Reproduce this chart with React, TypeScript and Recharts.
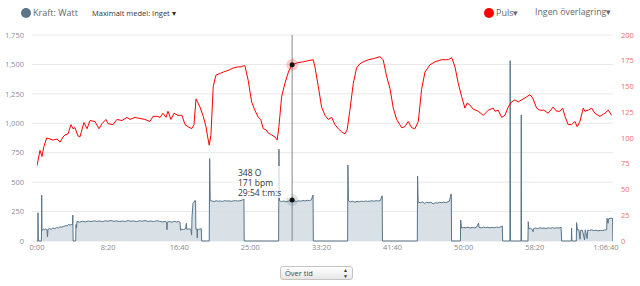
import {
  ComposedChart, Line, Area, XAxis, YAxis, CartesianGrid, ReferenceLine, ReferenceDot,
} from 'recharts'

type Pt = [number, number]

// power (watt) by elapsed seconds, one list per part of the session
const warmupWatt: Pt[] = [
  [0, 0], [6, 0], [7, 240], [9, 40], [11, 0], [31, 0], [33, 390], [35, 90], [45, 100], [55, 95],
  [62, 105], [70, 95], [74, 35], [77, 100], [88, 105], [100, 100], [112, 110], [125, 105], [138, 115],
  [150, 110], [162, 120], [175, 118], [188, 125], [200, 130], [212, 128], [222, 140], [232, 135],
  [242, 140], [250, 138], [252, 220], [254, 0], [272, 0], [274, 140], [278, 110], [281, 165],
  [300, 160], [320, 168], [340, 162], [360, 170], [380, 165], [400, 172], [420, 166], [440, 170],
  [460, 165], [480, 172], [500, 168], [520, 174], [540, 167], [560, 171], [580, 165], [600, 170],
  [620, 166], [640, 173], [660, 168], [680, 170], [700, 165], [720, 172], [740, 168], [760, 174],
  [780, 166], [800, 170], [820, 165], [840, 172], [860, 168], [880, 162], [900, 165], [912, 160],
  [914, 95], [916, 160], [930, 165], [950, 160], [965, 168], [980, 162], [995, 165], [1005, 160],
  [1010, 90], [1014, 100], [1030, 98], [1045, 104], [1050, 150], [1053, 100], [1070, 102],
  [1082, 100], [1087, 50], [1090, 205], [1097, 320], [1104, 330], [1111, 345], [1115, 340],
  [1117, 100], [1125, 100], [1127, 25], [1129, 100], [1145, 100], [1155, 105], [1158, 0], [1211, 0],
]
const interval1Watt: Pt[] = [
  [1214, 700], [1218, 345], [1230, 340], [1245, 335], [1260, 342], [1275, 338], [1290, 340],
  [1305, 336], [1320, 343], [1335, 339], [1350, 341], [1365, 337], [1380, 340], [1395, 344],
  [1410, 339], [1425, 342], [1440, 346], [1452, 352], [1455, 357], [1457, 0], [1699, 0],
]
const interval2Watt: Pt[] = [
  [1701, 780], [1705, 342], [1720, 335], [1735, 340], [1750, 333], [1765, 338], [1780, 342],
  [1794, 348], [1810, 340], [1825, 336], [1840, 342], [1855, 338], [1870, 344], [1885, 340],
  [1900, 346], [1915, 343], [1930, 350], [1938, 385], [1941, 390], [1943, 0], [2184, 0],
]
const interval3Watt: Pt[] = [
  [2186, 645], [2190, 340], [2205, 333], [2220, 338], [2235, 330], [2250, 336], [2265, 333],
  [2280, 338], [2295, 335], [2310, 340], [2325, 336], [2340, 339], [2355, 342], [2370, 338],
  [2385, 343], [2400, 340], [2415, 345], [2424, 380], [2427, 385], [2429, 0], [2674, 0],
]
const interval4Watt: Pt[] = [
  [2676, 552], [2680, 330], [2695, 325], [2710, 332], [2725, 320], [2740, 328], [2755, 324],
  [2770, 330], [2785, 315], [2800, 325], [2815, 322], [2830, 328], [2845, 325], [2860, 330],
  [2875, 327], [2890, 333], [2900, 338], [2910, 395], [2913, 400], [2915, 0], [2977, 0],
]
const cooldownWatt: Pt[] = [
  [2979, 178], [2985, 110], [3000, 115], [3015, 112], [3030, 118], [3045, 110], [3060, 115],
  [3075, 112], [3090, 116], [3105, 153], [3108, 115], [3125, 112], [3140, 118], [3155, 114],
  [3170, 117], [3185, 112], [3200, 116], [3215, 113], [3230, 118], [3245, 115], [3260, 120],
  [3272, 127], [3274, 0], [3325, 0], [3327, 1532], [3329, 0], [3403, 0], [3405, 1071], [3407, 0],
  [3452, 0], [3454, 164], [3458, 105], [3470, 108], [3480, 100], [3488, 79], [3492, 106],
  [3505, 110], [3520, 105], [3535, 112], [3550, 108], [3565, 110], [3580, 106], [3595, 112],
  [3610, 108], [3625, 113], [3640, 109], [3655, 112], [3670, 110], [3685, 116], [3689, 0],
  [3757, 0], [3759, 108], [3761, 0], [3792, 0], [3794, 156], [3800, 93], [3810, 95], [3818, 15],
  [3822, 90], [3835, 92], [3850, 10], [3855, 95], [3868, 20], [3872, 92], [3885, 90], [3900, 95],
  [3915, 88], [3930, 92], [3945, 86], [3960, 90], [3975, 88], [3990, 93], [4005, 95], [4008, 193],
  [4015, 150], [4020, 190], [4035, 193], [4047, 193], [4049, 0],
]

// heart rate (bpm)
const pulseBpm: Pt[] = [
  [0, 73], [21, 88], [35, 82], [49, 92], [68, 100], [91, 99], [112, 98], [141, 99], [162, 96],
  [183, 101], [197, 103], [218, 104], [239, 113], [253, 109], [267, 110], [288, 102], [302, 101],
  [330, 115], [352, 109], [373, 117], [408, 116], [436, 109], [457, 114], [485, 118], [499, 114],
  [534, 113], [562, 118], [598, 117], [633, 120], [654, 118], [689, 120], [724, 119], [759, 118],
  [794, 116], [816, 121], [844, 121], [865, 120], [886, 124], [907, 120], [921, 126], [942, 118],
  [963, 124], [991, 122], [1019, 122], [1041, 113], [1062, 111], [1088, 109], [1104, 113],
  [1118, 138], [1146, 130], [1169, 121], [1188, 111], [1200, 101], [1211, 93], [1223, 103],
  [1239, 150], [1258, 161], [1275, 162], [1292, 163], [1310, 164], [1330, 165], [1350, 166],
  [1380, 168], [1410, 169], [1435, 169], [1450, 170], [1462, 170], [1485, 156], [1509, 135],
  [1532, 127], [1556, 120], [1573, 118], [1591, 109], [1610, 108], [1626, 105], [1650, 103],
  [1673, 101], [1689, 98], [1701, 111], [1720, 140], [1743, 153], [1770, 165], [1794, 171],
  [1830, 173], [1872, 174], [1905, 175], [1942, 176], [1954, 169], [1978, 150], [2001, 130],
  [2025, 122], [2048, 118], [2072, 120], [2095, 113], [2118, 109], [2142, 106], [2165, 104],
  [2181, 108], [2200, 127], [2224, 153], [2247, 168], [2270, 172], [2294, 174], [2330, 176],
  [2364, 177], [2390, 178], [2411, 179], [2434, 176], [2458, 160], [2482, 148], [2505, 129],
  [2529, 118], [2564, 110], [2587, 111], [2610, 116], [2634, 110], [2657, 109], [2681, 116],
  [2704, 147], [2728, 164], [2763, 171], [2798, 174], [2820, 175], [2845, 176], [2870, 176],
  [2892, 176], [2916, 178], [2939, 169], [2962, 153], [2986, 140], [3009, 129], [3025, 134],
  [3044, 132], [3067, 128], [3102, 126], [3138, 122], [3173, 127], [3208, 129], [3220, 126],
  [3243, 127], [3267, 120], [3290, 122], [3313, 130], [3337, 135], [3360, 137], [3384, 135],
  [3407, 137], [3443, 140], [3466, 142], [3485, 139], [3513, 129], [3536, 127], [3564, 127],
  [3594, 124], [3629, 130], [3653, 126], [3677, 126], [3696, 129], [3712, 121], [3735, 113],
  [3759, 113], [3782, 116], [3798, 111], [3817, 116], [3841, 129], [3852, 126], [3876, 127],
  [3900, 129], [3923, 124], [3958, 121], [3993, 124], [4017, 127], [4040, 122],
]

const timeTicks = [0, 500, 1000, 1500, 2000, 2500, 3000, 3500, 4000]
const timeLabels = ['0:00', '8:20', '16:40', '25:00', '33:20', '41:40', '50:00', '58:20', '1:06:40']
const wattTicks = [0, 250, 500, 750, 1000, 1250, 1500, 1750]
const bpmTicks = [0, 25, 50, 75, 100, 125, 150, 175, 200]

// hovered sample shown in the tooltip
const hoverTime = 1794
const hoverWatt = 348
const hoverBpm = 171
const hoverLines = ['348 O', '171 bpm', '29:54 t:m:s']

const powerRows = [...warmupWatt, ...interval1Watt, ...interval2Watt, ...interval3Watt, ...interval4Watt, ...cooldownWatt]
  .map(([t, w]) => ({ t, w }))
const pulseRows = pulseBpm.map(([t, bpm]) => ({ t, bpm }))

const POWER = '#587589'
const FONT = '"Open Sans", Lato, sans-serif'

export default function App() {
  return (
    <div style={{ position: 'absolute', left: 0, top: 0, width: 640, height: 286, background: '#fff', fontFamily: FONT }}>
      {/* header */}
      <div style={{ position: 'absolute', left: 21, top: 8, width: 10, height: 10, borderRadius: 5, background: POWER }} />
      <div style={{ position: 'absolute', left: 33, top: 6, fontSize: 9, color: '#666' }}>Kraft: Watt</div>
      <div style={{ position: 'absolute', left: 92, top: 8, fontSize: 7.5, color: '#333' }}>Maximalt medel: Inget ▾</div>
      <div style={{ position: 'absolute', left: 484, top: 8, width: 10, height: 10, borderRadius: 5, background: '#ff0000' }} />
      <div style={{ position: 'absolute', left: 496, top: 6, fontSize: 9, color: '#666' }}>Puls▾</div>
      <div style={{ position: 'absolute', left: 535, top: 6, fontSize: 8.8, color: '#666' }}>Ingen överlagring▾</div>

      <ComposedChart width={640} height={286} margin={{ top: 35, right: 0, bottom: 25, left: 0 }} style={{ position: 'absolute', left: 0, top: 0 }}>
        <CartesianGrid vertical={false} stroke="#e8e8e8" yAxisId="watt" />
        <XAxis
          dataKey="t" type="number" domain={[0, 4050]} ticks={timeTicks} padding={{ left: 5, right: 0 }}
          tickFormatter={(v: number) => timeLabels[timeTicks.indexOf(v)]} allowDataOverflow
          axisLine={false} tickLine={false} tickSize={0} tickMargin={4} height={20} interval={0}
          tick={{ fill: '#8a8a8a', fontSize: 7.5, fontFamily: FONT }}
        />
        <YAxis
          yAxisId="watt" domain={[0, 1750]} ticks={wattTicks} width={32} interval={0}
          tickFormatter={(v: number) => v.toLocaleString('en-US')}
          axisLine={false} tickLine={false} tick={{ fill: '#7f93a6', fontSize: 7.5, fontFamily: FONT }}
        />
        <YAxis
          yAxisId="bpm" orientation="right" domain={[0, 200]} ticks={bpmTicks} width={27} interval={0}
          axisLine={false} tickLine={false} tick={{ fill: '#f06a6a', fontSize: 7.5, fontFamily: FONT, textAnchor: 'start' }}
        />
        <Line
          yAxisId="bpm" data={pulseRows} dataKey="bpm" type="linear" stroke="#ff0000" strokeWidth={1}
          dot={false} isAnimationActive={false}
        />
        <Area
          yAxisId="watt" data={powerRows} dataKey="w" type="linear" stroke={POWER} strokeWidth={1}
          fill="#d5dde3" fillOpacity={0.9} dot={false} isAnimationActive={false}
        />
        <ReferenceLine yAxisId="watt" x={hoverTime} stroke="#888" strokeWidth={1} />
        <ReferenceDot yAxisId="bpm" x={hoverTime} y={hoverBpm} r={6} fill="#ff0000" fillOpacity={0.2} stroke="none" />
        <ReferenceDot yAxisId="bpm" x={hoverTime} y={hoverBpm} r={2.5} fill="#111" stroke="none" />
        <ReferenceDot yAxisId="watt" x={hoverTime} y={hoverWatt} r={6} fill="#587589" fillOpacity={0.2} stroke="none" />
        <ReferenceDot yAxisId="watt" x={hoverTime} y={hoverWatt} r={2.5} fill="#111" stroke="none" />
      </ComposedChart>

      {/* tooltip */}
      <div style={{ position: 'absolute', left: 233, top: 166, width: 58, height: 32, background: 'rgba(255,255,255,0.8)' }} />
      {hoverLines.map((l, i) => (
        <div key={l} style={{ position: 'absolute', left: 238, top: 168 + i * 10, fontSize: 8.5, lineHeight: '10px', height: 10, color: '#333', whiteSpace: 'nowrap' }}>{l}</div>
      ))}

      {/* mode selector */}
      <div style={{
        position: 'absolute', left: 280, top: 266, width: 73, height: 14, boxSizing: 'border-box',
        border: '1px solid #c4c4c4', borderRadius: 3, background: 'linear-gradient(#ffffff, #e6e6e6)',
        fontSize: 7.5, color: '#444', lineHeight: '12px', paddingLeft: 4,
      }}>
        Över tid
        <span style={{ position: 'absolute', right: 4, top: 0, fontSize: 5, lineHeight: '6px', color: '#333' }}>▲<br />▼</span>
      </div>
    </div>
  )
}
